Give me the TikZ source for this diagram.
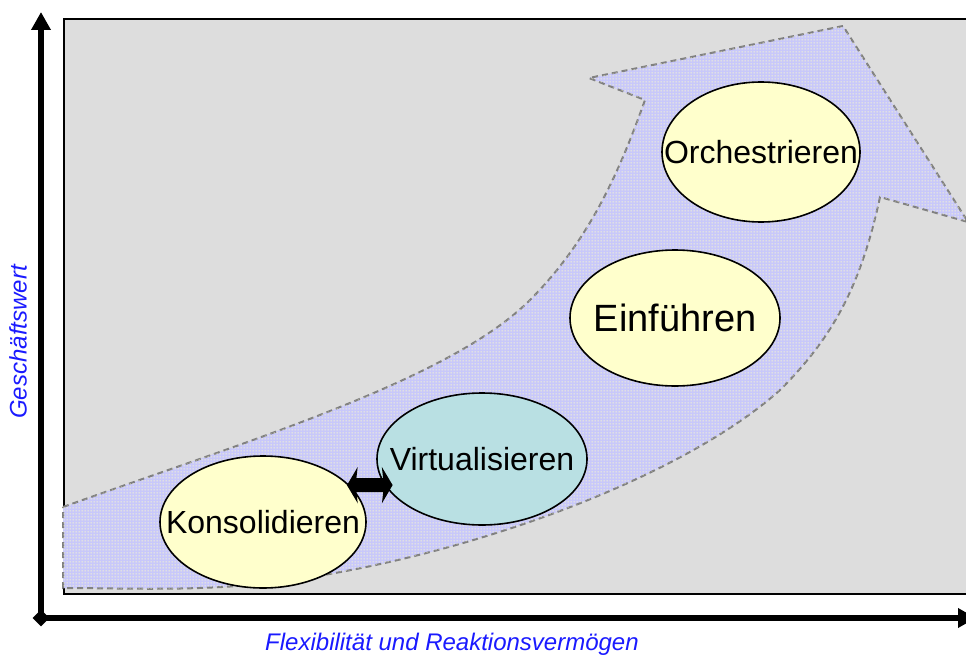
\documentclass[tikz,border=0pt]{standalone}
\usepackage{fontspec}
\setmainfont{Liberation Sans}
\usetikzlibrary{shapes.geometric,arrows.meta,patterns}
\definecolor{bggray}{HTML}{DDDDDD}
\definecolor{lav}{HTML}{C8C8FA}
\definecolor{ydot}{HTML}{FFFFC8}
\definecolor{ellyellow}{HTML}{FFFFCC}
\definecolor{ellteal}{HTML}{B9E0E3}
\definecolor{dashgray}{HTML}{808080}
\definecolor{lblblue}{HTML}{1A1AFF}
\pgfdeclarepatternformonly{ckdots}{\pgfpointorigin}{\pgfpoint{2.25pt}{2.25pt}}{\pgfpoint{2.25pt}{2.25pt}}{%
  \pgfpathrectangle{\pgfpoint{0.55pt}{0.55pt}}{\pgfpoint{1.1pt}{1.1pt}}\pgfusepath{fill}}
\newcommand{\stagetext}[1]{\makebox[0pt]{#1}}
\tikzset{
  stage/.style={ellipse, draw=black, line width=1.2pt, fill=ellyellow, inner sep=0pt,
    font=\fontsize{24}{28}\selectfont},
  axisline/.style={line width=4.5pt, -{Triangle[width=14pt,length=13.5pt]}},
  axislabel/.style={text=lblblue, font=\fontsize{18}{22}\selectfont\itshape, inner sep=0pt},
  bigarrow/.style={draw=dashgray, line width=1.5pt, dash pattern=on 4.5pt off 3pt,
    fill=lav, postaction={pattern=ckdots, pattern color=ydot}},
  dblarrow/.style={line width=10.5pt, {Stealth[length=8pt,width=27pt,inset=1.5pt]}-{Stealth[length=8pt,width=27pt,inset=1.5pt]}}
}
\begin{document}
\begin{tikzpicture}[x=0.75pt,y=-0.75pt]
\useasboundingbox (0,0) rectangle (966,656);
% background panel
\draw[fill=bggray, line width=1.3pt] (64,19) rectangle (980,594);
% big curved arrow
\path[bigarrow] (63,507)
  .. controls (250,440) and (450,380) .. (530,300)
  .. controls (590,240) and (620,170) .. (645,100)
  -- (589,78) -- (843,26) -- (968,222) -- (880,197)
  .. controls (860,290) and (830,340) .. (780,390)
  .. controls (680,480) and (450,565) .. (250,585)
  .. controls (180,591) and (120,588) .. (63,588)
  -- cycle;
% stages
\node[stage, minimum width=154.5pt, minimum height=99pt] (kon) at (263,522) {\stagetext{Konsolidieren}};
\node[stage, fill=ellteal, minimum width=157.5pt, minimum height=99pt] (virt) at (482,459) {\stagetext{Virtualisieren}};
\node[stage, minimum width=157.5pt, minimum height=102pt, font=\fontsize{28.5}{32}\selectfont] (einf) at (675,318) {\stagetext{Einführen}};
\node[stage, minimum width=148.5pt, minimum height=105pt] (orch) at (761,152) {\stagetext{Orchestrieren}};
\draw[dblarrow, shorten <=-2pt, shorten >=-6pt] (kon.23.5) -- (virt.195);
% axes
\node[diamond, fill=black, inner sep=0pt, minimum width=12.75pt, minimum height=12.75pt] (origin) at (41,618) {};
\coordinate (ytip) at (41,12);
\coordinate (xtip) at (976,618);
\draw[axisline] (origin.center) -- (ytip);
\draw[axisline] (origin.center) -- (xtip);
\node[axislabel, rotate=90] (ylab) at (18,342) {Geschäftswert};
\node[axislabel] (xlab) at (452,644) {Flexibilität und Reaktionsvermögen};
\end{tikzpicture}
\end{document}
